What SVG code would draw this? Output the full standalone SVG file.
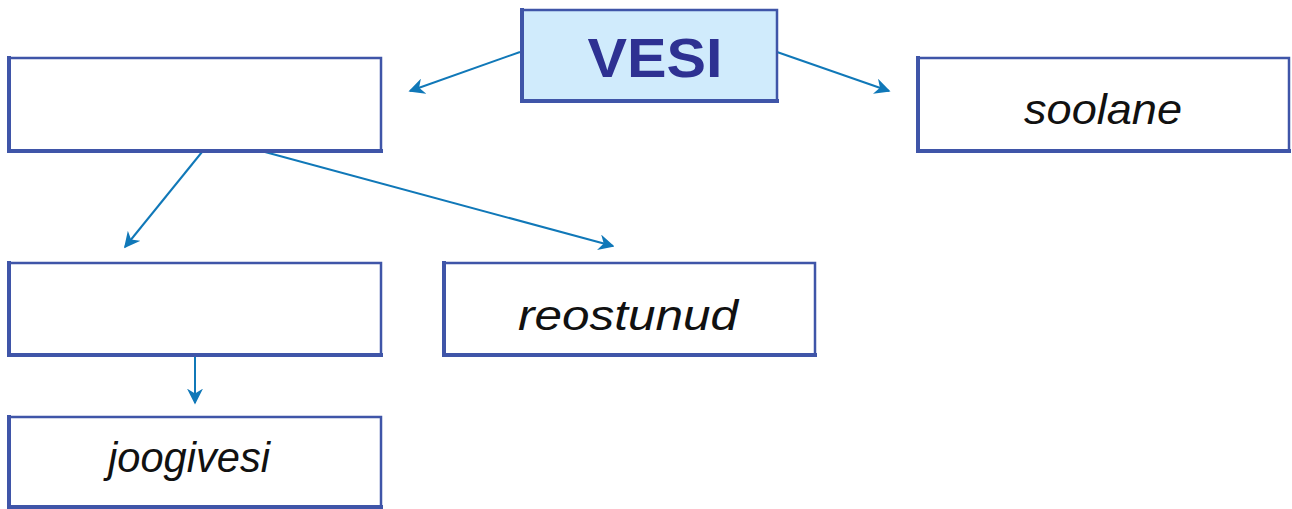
<svg xmlns="http://www.w3.org/2000/svg" width="1292" height="509" viewBox="0 0 1292 509">
<defs>
<style>
.box{fill:#ffffff;stroke:#3f55a8;stroke-width:2.5}
.top{fill:#d0ebfc;stroke:#3f55a8;stroke-width:2.5}
.edge{fill:none;stroke:#3f55a8;stroke-width:4;stroke-linecap:square}
.lbl{font-family:"Liberation Sans",Arial,sans-serif;font-style:italic;font-size:42px;fill:#111111;text-anchor:middle}
.title{font-family:"Liberation Sans",Arial,sans-serif;font-weight:bold;font-size:56px;fill:#2e3192;text-anchor:middle}
.conn{fill:none;stroke:#1078b8;stroke-width:2}
</style>
<marker id="ah" viewBox="0 0 10 10" refX="9" refY="5" markerWidth="8" markerHeight="8" markerUnits="userSpaceOnUse" orient="auto">
<path d="M0,0 L10,5 L0,10 L3,5 Z" fill="#1078b8"/>
</marker>
<marker id="ah2" viewBox="0 0 10 10" refX="9" refY="5" markerWidth="16" markerHeight="16" markerUnits="userSpaceOnUse" orient="auto">
<path d="M0,0 L10,5 L0,10 L3,5 Z" fill="#1078b8"/>
</marker>
</defs>
<rect width="1292" height="509" fill="#ffffff"/>
<g id="connectors">
<line class="conn" x1="520" y1="52" x2="410" y2="91" marker-end="url(#ah2)"/>
<line class="conn" x1="777" y1="52" x2="889" y2="91" marker-end="url(#ah2)"/>
<line class="conn" x1="202" y1="152" x2="125" y2="247" marker-end="url(#ah2)"/>
<line class="conn" x1="265" y1="152" x2="613" y2="246" marker-end="url(#ah2)"/>
<line class="conn" x1="195" y1="356" x2="195" y2="403" marker-end="url(#ah2)"/>
</g>
<g id="vesi">
<rect class="top" x="522" y="10" width="255" height="91"/>
<path class="edge" d="M522,10 V101 H777"/>
<text class="title" x="655" y="77" textLength="135" lengthAdjust="spacingAndGlyphs">VESI</text>
</g>
<g id="n-left">
<rect class="box" x="9" y="58" width="372" height="93"/>
<path class="edge" d="M9,58 V151 H381"/>
</g>
<g id="n-soolane">
<rect class="box" x="918" y="58" width="371" height="93"/>
<path class="edge" d="M918,58 V151 H1289"/>
<text class="lbl" x="1103" y="124" textLength="158" lengthAdjust="spacingAndGlyphs">soolane</text>
</g>
<g id="n-mid">
<rect class="box" x="9" y="263" width="372" height="92"/>
<path class="edge" d="M9,263 V355 H381"/>
</g>
<g id="n-reostunud">
<rect class="box" x="444" y="263" width="371" height="92"/>
<path class="edge" d="M444,263 V355 H815"/>
<text class="lbl" x="628" y="330" textLength="220" lengthAdjust="spacingAndGlyphs">reostunud</text>
</g>
<g id="n-joogivesi">
<rect class="box" x="9" y="417" width="372" height="90"/>
<path class="edge" d="M9,417 V507 H381"/>
<text class="lbl" x="189" y="472" textLength="162" lengthAdjust="spacingAndGlyphs">joogivesi</text>
</g>
</svg>
